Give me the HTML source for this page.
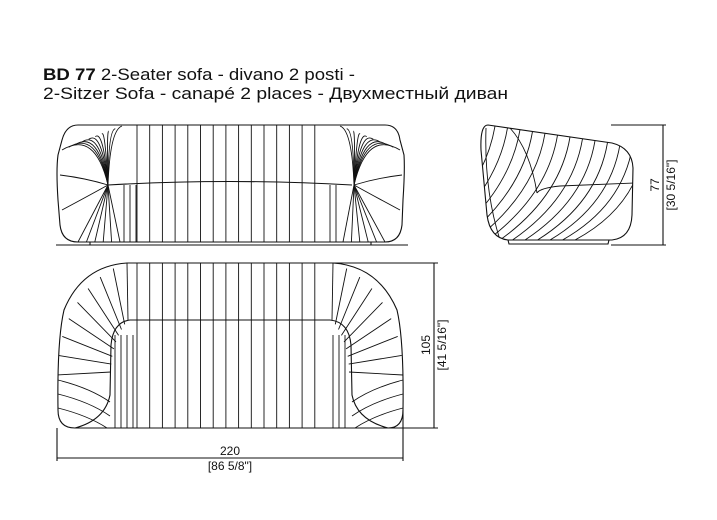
<!DOCTYPE html>
<html><head><meta charset="utf-8"><style>
html,body{margin:0;padding:0;background:#fff;}
svg{display:block;}
text{font-family:"Liberation Sans",sans-serif;fill:#111;}
</style></head><body>
<svg id="s" width="717" height="520" viewBox="0 0 717 520" xmlns="http://www.w3.org/2000/svg">
<defs>
<clipPath id="cf"><path d="M78,125 L385,125 Q398,125 400,140 L404,155 Q405,170 403,200 L402,225 Q400,242 385,242 L78,242 Q62,242 60,225 L58,200 Q56,170 58,155 L62,140 Q66,125 78,125 Z"/></clipPath>
<clipPath id="cs"><path d="M488,125 L612,143 Q632,148 633,168 L632,215 Q631,238 612,240 L508,240 Q490,238 487,215 L481,150 Q480,125 488,125 Z"/></clipPath>
<clipPath id="ct"><path d="M127,263 L333,263 Q378,266 397,310 Q404,340 403,410 Q403,428 388,428 L75,428 Q58,428 58,410 Q57,340 64,310 Q82,266 127,263 Z"/></clipPath>
</defs>
<text x="43" y="80" font-size="17" textLength="312" lengthAdjust="spacingAndGlyphs"><tspan font-weight="bold">BD 77</tspan> 2-Seater sofa - divano 2 posti -</text>
<text x="43" y="99" font-size="17" textLength="465" lengthAdjust="spacingAndGlyphs">2-Sitzer Sofa - canapé 2 places - Двухместный диван</text>
<g fill="none" stroke="#111" stroke-width="1.1">
<path d="M78,125 L385,125 Q398,125 400,140 L404,155 Q405,170 403,200 L402,225 Q400,242 385,242 L78,242 Q62,242 60,225 L58,200 Q56,170 58,155 L62,140 Q66,125 78,125 Z"/>
<line x1="56" y1="245" x2="408" y2="245"/>
<path d="M90,242 L90,245 M371,242 L371,245"/>
<path d="M108,185 Q230,178 352,185"/>
<path d="M488,125 L612,143 Q632,148 633,168 L632,215 Q631,238 612,240 L508,240 Q490,238 487,215 L481,150 Q480,125 488,125 Z"/>
<path d="M508,240 L509,244 L608,244 L609,240"/>
<line x1="611" y1="125" x2="666" y2="125"/>
<line x1="611" y1="245" x2="666" y2="245"/>
<line x1="663" y1="125" x2="663" y2="245"/>
<path d="M127,263 L333,263 Q378,266 397,310 Q404,340 403,410 Q403,428 388,428 L75,428 Q58,428 58,410 Q57,340 64,310 Q82,266 127,263 Z"/>
<path d="M75,428 Q105,420 110,395 L111,345 Q113,322 130,320 L330,320 Q349,322 351,345 L352,395 Q357,420 388,428"/>
<line x1="333" y1="263" x2="438" y2="263"/>
<line x1="388" y1="428" x2="438" y2="428"/>
<line x1="434" y1="263" x2="434" y2="428"/>
<line x1="57" y1="428" x2="57" y2="461"/>
<line x1="403" y1="410" x2="403" y2="461"/>
<line x1="57" y1="458" x2="403" y2="458"/>
</g>
<g fill="none" stroke="#111" stroke-width="0.9" id="gf" clip-path="url(#cf)"></g>
<g fill="none" stroke="#111" stroke-width="0.9" id="gs" clip-path="url(#cs)"></g>
<g fill="none" stroke="#111" stroke-width="0.9" id="gt" clip-path="url(#ct)"></g>
<text x="230" y="455" font-size="12" text-anchor="middle">220</text>
<text x="230" y="470" font-size="12" text-anchor="middle">[86 5/8"]</text>
<text transform="translate(430,345) rotate(-90)" font-size="12" text-anchor="middle">105</text>
<text transform="translate(446,345) rotate(-90)" font-size="12" text-anchor="middle">[41 5/16"]</text>
<text transform="translate(659,185) rotate(-90)" font-size="12" text-anchor="middle">77</text>
<text transform="translate(675,185) rotate(-90)" font-size="12" text-anchor="middle">[30 5/16"]</text>
</svg>
<script>
var NS='http://www.w3.org/2000/svg';
function L(g,d){var p=document.createElementNS(NS,'path');p.setAttribute('d',d);document.getElementById(g).appendChild(p);}
for(var x=137;x<=326;x+=12.7){L('gf','M'+x.toFixed(1)+',125 L'+x.toFixed(1)+',242');}
for(var i=0;i<10;i++){
 var t=i/9;
 L('gf','M'+(62+t*60).toFixed(1)+','+(150-t*24).toFixed(1)+' Q'+(95+t*15).toFixed(1)+',130 108,185');
 L('gf','M'+(400-t*60).toFixed(1)+','+(150-t*24).toFixed(1)+' Q'+(367-t*15).toFixed(1)+',130 354,185');
}
for(var i=0;i<6;i++){var t=i/5;
 L('gf','M108,185 L'+(78+t*42).toFixed(1)+',242');
 L('gf','M354,185 L'+(385-t*42).toFixed(1)+',242');}
L('gf','M60,175 Q85,178 108,185');L('gf','M62,210 Q90,195 108,185');
L('gf','M402,175 Q377,178 354,185');L('gf','M400,210 Q372,195 354,185');
for(var x=124;x<137;x+=6){L('gf','M'+x+',185 L'+x+',242');}
for(var x=330;x<342;x+=6){L('gf','M'+x+',185 L'+x+',242');}
// side view: diagonal lines top-right to bottom-left
for(var i=0;i<13;i++){
 var t=i/12;
 var x1=495+t*150, y1=126+t*22;
 var x2=500+t*150-75, y2=240;
 L('gs','M'+x1.toFixed(1)+','+y1.toFixed(1)+' Q'+(x1-10).toFixed(1)+','+(y1+60).toFixed(1)+' '+x2.toFixed(1)+','+y2);
}
L('gs','M486,128 Q484,190 500,240');
L('gs','M510,128 Q530,150 537,193');
L('gs','M537,193 Q540,188 560,186 L634,183');
// top view
for(var x=137;x<=326;x+=12.7){L('gt','M'+x.toFixed(1)+',263 L'+x.toFixed(1)+',428');}
for(var x=115;x<134;x+=6){L('gt','M'+x+',335 L'+x+',428');}
for(var x=333;x<350;x+=6){L('gt','M'+x+',335 L'+x+',428');}
for(var i=0;i<9;i++){
 var a=(i/8)*Math.PI/2;
 var ox=127-Math.sin(a)*70, oy=263+(1-Math.cos(a))*80+i*4;
 var ix=128-Math.sin(a)*17, iy=320+(1-Math.cos(a))*20+i*4;
 L('gt','M'+ox.toFixed(1)+','+oy.toFixed(1)+' L'+ix.toFixed(1)+','+iy.toFixed(1));
 L('gt','M'+(460-ox).toFixed(1)+','+oy.toFixed(1)+' L'+(460-ix).toFixed(1)+','+iy.toFixed(1));
}
for(var i=0;i<3;i++){var y=380+i*14;L('gt','M58,'+y+' Q90,'+(y+8)+' 110,'+(y+22));L('gt','M403,'+y+' Q372,'+(y+8)+' 352,'+(y+22));}
</script>
</body></html>
